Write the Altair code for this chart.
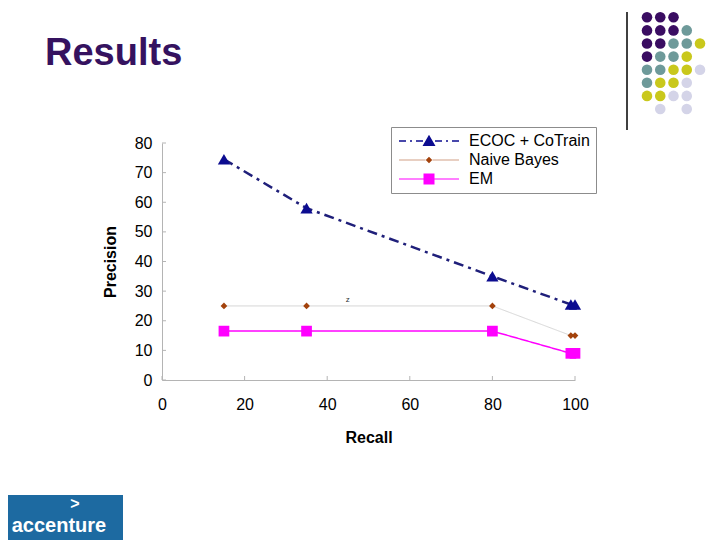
import altair as alt
import pandas as pd

# ---------------- data ----------------
recall = [15, 35, 80, 99, 100]
series_names = ["ECOC + CoTrain", "Naive Bayes", "EM"]
ecoc = [74.5, 58, 35, 25.5, 25.5]
naive_bayes = [25, 25, 25, 15, 15]
em = [16.5, 16.5, 16.5, 9, 9]
x_ticks = [0, 20, 40, 60, 80, 100]
y_ticks = [0, 10, 20, 30, 40, 50, 60, 70, 80]

# decorative dot grid (P purple, T teal, Y yellow, L lavender)
dot_rows = ["PPP..", "PPPT.", "PPTTY", "PTTY.", "TTYYL", "TYYL.", "YYLL.", ".L.L."]
dot_classes = ["P", "T", "Y", "L"]
dot_colors = ["#3a0d62", "#6e9a9a", "#c9c81c", "#d4d4e8"]

# ---------------- styles ----------------
line_colors = ["#1f1f7a", "#d6d6d6", "#ff00ff"]
marker_colors = ["#0c0c90", "#a3420c", "#ff00ff"]
dashes = [[10, 5, 3, 5], [1, 0], [1, 0]]
widths = [2.5, 1, 1.5]
marker_shapes = ["triangle-up", "diamond", "square"]
marker_sizes = [150, 45, 115]


def rect(a, b, h):
    return f"M{a},{-h}H{b}V{h}H{a}Z"


ecoc_path = "".join(rect(a, b, 0.15) for a, b in
                    [(-6, -4.6), (-3.8, -3.4), (-2.6, -1.2), (1.2, 2.6), (3.4, 3.8), (4.6, 6)])
ecoc_path += "M0,-1.25L1.3,1L-1.3,1Z"
nb_path = rect(-6, -0.7, 0.06) + rect(0.7, 6, 0.06) + "M0,-0.65L0.65,0L0,0.65L-0.65,0Z"
em_path = rect(-6, 6, 0.12) + "M-1.1,-1.1H1.1V1.1H-1.1Z"
legend_paths = [ecoc_path, nb_path, em_path]

rows = []
for name, vals in zip(series_names, [ecoc, naive_bayes, em]):
    for r, p in zip(recall, vals):
        rows.append({"series": name, "recall": r, "precision": p})
df = pd.DataFrame(rows)

dots = []
for ri, row in enumerate(dot_rows):
    for ci, ch in enumerate(row):
        if ch != ".":
            dots.append({"row": ri, "col": ci, "cls": ch})
dots_df = pd.DataFrame(dots)

FONT = "Liberation Sans"
W, H = 413, 237

xscale = alt.Scale(domain=[0, 100], nice=False, zero=True)
yscale = alt.Scale(domain=[0, 80], nice=False, zero=True)
xaxis = alt.Axis(values=x_ticks, title="Recall", grid=False, tickSize=0,
                 labelFlush=False, domainColor="#b4b4b4", labelFont=FONT,
                 labelFontSize=16, labelColor="black", labelPadding=16,
                 titleFont=FONT, titleFontSize=16, titleFontWeight="bold",
                 titleColor="black", titlePadding=17)
yaxis = alt.Axis(values=y_ticks, title="Precision", grid=False, tickSize=0,
                 labelFlush=False, domainColor="#b4b4b4", labelFont=FONT,
                 labelFontSize=16, labelColor="black", labelPadding=10,
                 titleFont=FONT, titleFontSize=16, titleFontWeight="bold",
                 titleColor="black", titlePadding=16)

X = alt.X("recall:Q", scale=xscale, axis=xaxis)
Y = alt.Y("precision:Q", scale=yscale, axis=yaxis)

series_layers = []
for name, lc, dash, wd in zip(series_names, line_colors, dashes, widths):
    series_layers.append(
        alt.Chart(df).transform_filter(alt.datum.series == name).mark_line(
            color=lc, strokeDash=dash, strokeWidth=wd
        ).encode(x=X, y=Y)
    )
for name, shp, sz, col in zip(series_names, marker_shapes, marker_sizes, marker_colors):
    series_layers.append(
        alt.Chart(df).transform_filter(alt.datum.series == name).mark_point(
            filled=True, opacity=1, shape=shp, size=sz, color=col, strokeWidth=0.8
        ).encode(x=X, y=Y)
    )

legend = alt.Legend(
    title=None, orient="none", legendX=229, legendY=-16, padding=6,
    strokeColor="#8c8c8c", fillColor="white", labelFont=FONT, labelFontSize=16,
    labelColor="black", symbolSize=100, symbolStrokeWidth=0, symbolOffset=24,
    labelOffset=32, rowPadding=3, symbolOpacity=1,
)
legend_dummy = alt.Chart(df).mark_point(filled=True, opacity=1).encode(
    color=alt.Color("series:N", scale=alt.Scale(domain=series_names, range=marker_colors), legend=legend),
    shape=alt.Shape("series:N", scale=alt.Scale(domain=series_names, range=legend_paths), legend=legend),
).transform_filter("false")

xtick_rules = alt.Chart(pd.DataFrame({"recall": x_ticks})).mark_rule(
    color="#b4b4b4", strokeWidth=1).encode(x=X, y=alt.value(H), y2=alt.value(H - 4))
ytick_rules = alt.Chart(pd.DataFrame({"precision": y_ticks})).mark_rule(
    color="#b4b4b4", strokeWidth=1).encode(y=Y, x=alt.value(0), x2=alt.value(4))

stray = alt.Chart(pd.DataFrame({"recall": [45], "precision": [27], "t": ["z"]})).mark_text(
    fontSize=8, font=FONT, color="#333333").encode(x=X, y=Y, text="t:N")

main = alt.layer(*series_layers, legend_dummy, xtick_rules, ytick_rules, stray)

# ---------------- decorations ----------------
dot_layer = alt.Chart(dots_df).mark_circle(size=112, opacity=1).encode(
    x=alt.X("col:Q", scale=alt.Scale(domain=[0, 4], range=[485, 538]), axis=None),
    y=alt.Y("row:Q", scale=alt.Scale(domain=[0, 7], range=[-125.7, -34]), axis=None),
    fill=alt.Fill("cls:N", scale=alt.Scale(domain=dot_classes, range=dot_colors), legend=None),
)

one = pd.DataFrame({"t": ["Results"]})
title = alt.Chart(one).mark_text(
    font=FONT, fontSize=38, fontWeight="bold", color="#35125f", align="left",
    baseline="alphabetic").encode(x=alt.value(-117), y=alt.value(-78), text="t:N")

vline = alt.Chart(one).mark_rule(color="black", strokeWidth=1.5).encode(
    x=alt.value(465), y=alt.value(-131), y2=alt.value(-13))

logo_rect = alt.Chart(one).mark_rect(color="#1d6aa1").encode(
    x=alt.value(-162), x2=alt.value(-39), y=alt.value(352), y2=alt.value(400))
logo_text = alt.Chart(pd.DataFrame({"t": ["accenture"]})).mark_text(
    font=FONT, fontSize=20, fontWeight="bold", color="white", align="center",
    baseline="alphabetic").encode(x=alt.value(-103), y=alt.value(389), text="t:N")
logo_mark = alt.Chart(pd.DataFrame({"t": [">"]})).mark_text(
    font=FONT, fontSize=16, fontWeight="bold", color="white", align="center",
    baseline="alphabetic").encode(x=alt.value(-87), y=alt.value(366), text="t:N")

chart = alt.layer(main, dot_layer, title, vline, logo_rect, logo_text, logo_mark).resolve_scale(
    x="independent", y="independent"
).properties(
    width=W, height=H,
    autosize=alt.AutoSizeParams(type="none"),
    padding={"left": 154, "top": 135, "right": 133, "bottom": 160},
    background="white",
).configure_view(stroke=None)

chart.save("out.html", embed_options={"renderer": "svg", "actions": False})
